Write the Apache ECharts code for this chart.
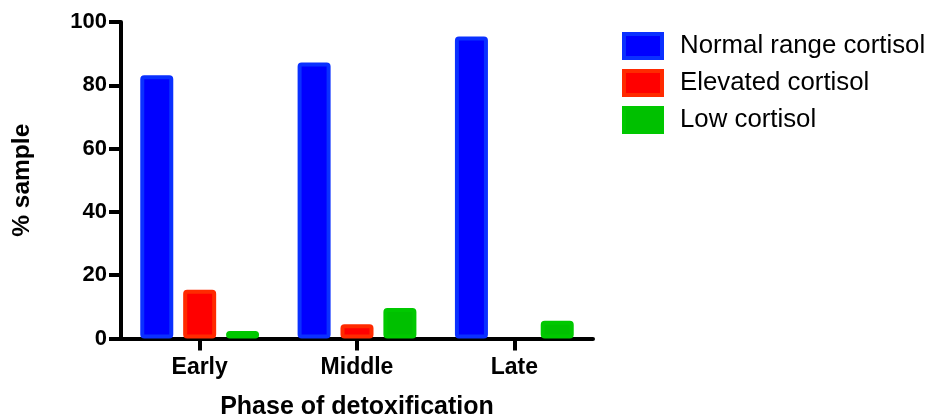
<!DOCTYPE html>
<html>
<head>
<meta charset="utf-8">
<script src="https://cdn.jsdelivr.net/npm/echarts@6/dist/echarts.min.js"></script>
<style>
html,body{margin:0;padding:0;background:#fff;}
#chart{width:928px;height:417px;}
</style>
</head>
<body>
<div id="chart"></div>
<script>
const categories = ['Early', 'Middle', 'Late'];
const seriesNames = ['Normal range cortisol', 'Elevated cortisol', 'Low cortisol'];
const normalValues = [83.2, 87.2, 95.4];
const elevatedValues = [15.4, 4.5, 0];
const lowValues = [2.4, 9.6, 5.6];
const yTicks = [0, 20, 40, 60, 80, 100];

const fills = ['#0000ff', '#ff0000', '#00c000'];
const borders = ['#0a30ff', '#ff2a00', '#00c800'];
const dataSets = [normalValues, elevatedValues, lowValues];

const chart = echarts.init(document.getElementById('chart'), null, {renderer: 'canvas'});
const font = 'Liberation Sans, Arial, Helvetica, sans-serif';

const series = seriesNames.map((name, i) => ({
  name: name,
  type: 'bar',
  data: dataSets[i].map(v => v === 0 ? {value: v, itemStyle: {borderWidth: 0}} : v),
  barWidth: 33,
  barGap: '30%',
  itemStyle: {
    color: fills[i],
    borderColor: borders[i],
    borderWidth: 4,
    borderRadius: 2
  },
  emphasis: {disabled: true}
}));

chart.setOption({
  animation: false,
  backgroundColor: '#fff',
  grid: {left: 121, right: 335, top: 22, bottom: 78.5, containLabel: false, outerBoundsMode: 'none'},
  legend: {
    orient: 'vertical',
    left: 622,
    top: 32,
    padding: 0,
    itemWidth: 38,
    itemHeight: 24,
    itemGap: 9,
    icon: 'rect',
    itemStyle: {borderWidth: 4},
    textStyle: {fontFamily: font, fontSize: 25.8, color: '#000', lineHeight: 26, padding: [0, 0, 0, 13]},
    data: seriesNames
  },
  xAxis: {
    type: 'category',
    data: categories,
    name: 'Phase of detoxification',
    nameLocation: 'middle',
    nameGap: 56,
    nameTextStyle: {fontFamily: font, fontSize: 25, fontWeight: 'bold', color: '#000'},
    axisLine: {lineStyle: {color: '#000', width: 4}},
    axisTick: {show: true, alignWithLabel: true, length: 12, lineStyle: {color: '#000', width: 4}},
    axisLabel: {fontFamily: font, fontSize: 23, fontWeight: 'bold', color: '#000', margin: 18}
  },
  yAxis: {
    type: 'value',
    min: yTicks[0],
    max: yTicks[yTicks.length - 1],
    interval: 20,
    name: '% sample',
    nameLocation: 'middle',
    nameGap: 86,
    nameRotate: 90,
    nameTextStyle: {fontFamily: font, fontSize: 24.5, fontWeight: 'bold', color: '#000'},
    splitLine: {show: false},
    axisLine: {show: true, lineStyle: {color: '#000', width: 4}},
    axisTick: {show: true, length: 12, lineStyle: {color: '#000', width: 4}},
    axisLabel: {fontFamily: font, fontSize: 22, fontWeight: 'bold', color: '#000', margin: 14}
  },
  series: series
});
</script>
</body>
</html>
